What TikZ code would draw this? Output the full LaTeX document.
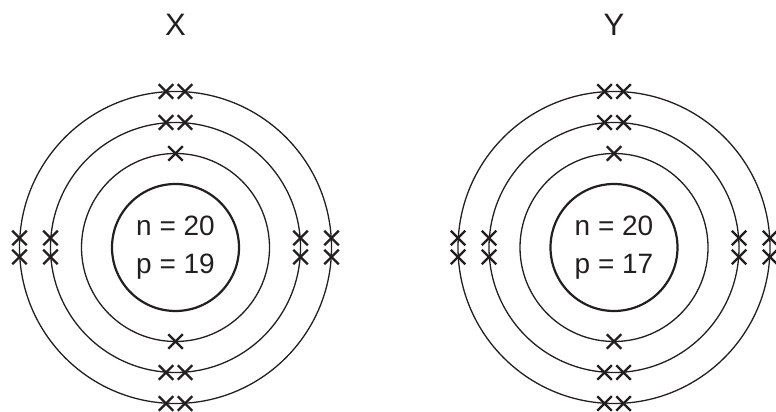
\documentclass[tikz,border=0pt]{standalone}
\usepackage{fontspec}
\setmainfont{Liberation Sans}
\usetikzlibrary{shapes.misc}
\definecolor{inkBlack}{RGB}{35, 31, 32}

\tikzset{
  nucleus/.style={circle, draw=inkBlack, line width=2.2pt, minimum size=127pt, inner sep=0pt,
    align=center, text=inkBlack, font=\fontsize{28pt}{38pt}\selectfont},
  shell/.style={draw=inkBlack, line width=1.3pt},
  electron/.style={cross out, draw=inkBlack, line width=2.3pt, minimum size=14.5pt, inner sep=0pt, outer sep=0pt},
  atomlabel/.style={text=inkBlack, font=\fontsize{31pt}{33pt}\selectfont}
}

\begin{document}
\begin{tikzpicture}[x=1pt, y=1pt]
  \useasboundingbox (0,0) rectangle (776,412);
  \foreach \cx/\atom/\prot in {175.5/X/19, 614/Y/17} {
    % nucleus, shells and label
    \node[nucleus] (nuc\atom) at (\cx,164.5) {n = 20\\p = \prot};
    \foreach \r in {94,125,156}
      \draw[shell] (nuc\atom.center) circle[radius=\r];
    \node[atomlabel] (lbl\atom) at (\cx,387.5) {\atom};
    % first shell: one above, one below
    \node[electron] (e\atom-1t) at ([shift={(0,94)}]nuc\atom.center) {};
    \node[electron] (e\atom-1b) at ([shift={(0,-94)}]nuc\atom.center) {};
    % outer shells: pairs on all four sides
    \foreach \r/\s in {125/2, 156/3}
      \foreach \d/\k in {-9.5/a, 9.5/b} {
        \node[electron] (e\atom-\s t\k) at ([shift={(\d,\r)}]nuc\atom.center) {};
        \node[electron] (e\atom-\s b\k) at ([shift={(\d,-\r)}]nuc\atom.center) {};
        \node[electron] (e\atom-\s l\k) at ([shift={(-\r,\d)}]nuc\atom.center) {};
        \node[electron] (e\atom-\s r\k) at ([shift={(\r,\d)}]nuc\atom.center) {};
      }
  }
\end{tikzpicture}
\end{document}
